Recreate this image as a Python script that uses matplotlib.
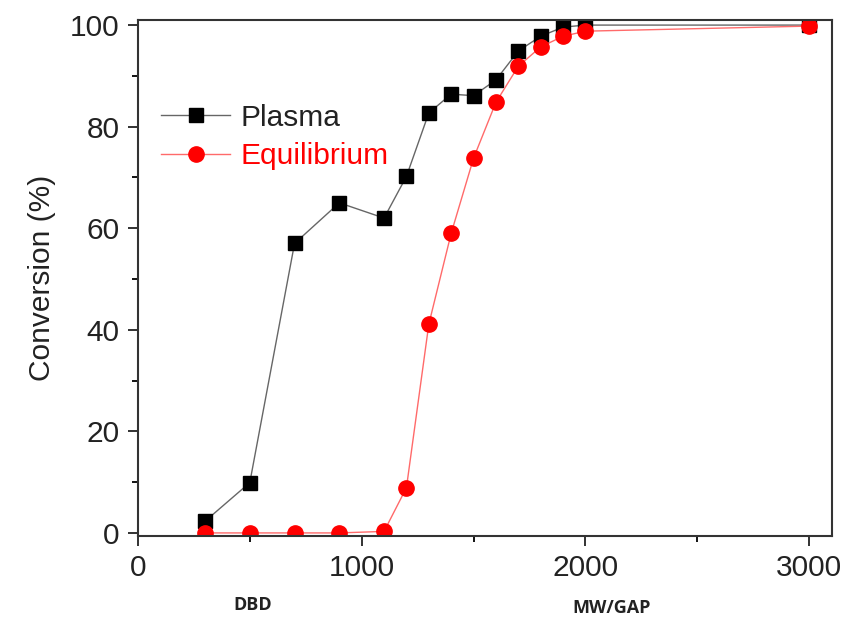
import matplotlib
matplotlib.use("Agg")
import matplotlib.pyplot as plt
from matplotlib.ticker import MultipleLocator

plt.rcParams["font.family"] = ["Liberation Sans", "DejaVu Sans"]

temperature = [300, 500, 700, 900, 1100, 1200, 1300, 1400, 1500, 1600, 1700, 1800, 1900, 2000, 3000]
plasma = [2.3, 9.9, 57.0, 65.0, 62.0, 70.2, 82.7, 86.4, 86.1, 89.2, 94.9, 97.8, 99.6, 100.0, 100.0]
equilibrium = [0.0, 0.0, 0.0, 0.0, 0.3, 8.9, 41.1, 59.0, 73.8, 84.8, 91.9, 95.7, 97.8, 98.8, 99.8]

fig = plt.figure(figsize=(8.46, 6.31), dpi=100)
ax = fig.add_axes([0.163, 0.1506, 0.820, 0.8177])

ax.plot(temperature, plasma, color="#666666", lw=1.0, marker="s", ms=10,
        mfc="black", mec="black", label="Plasma")
ax.plot(temperature, equilibrium, color="#ff6a6a", lw=1.0, marker="o", ms=11,
        mfc="red", mec="red", label="Equilibrium")

ax.set_xlim(0, 3100)
ax.set_ylim(-0.6, 101)
ax.xaxis.set_major_locator(MultipleLocator(1000))
ax.xaxis.set_minor_locator(MultipleLocator(500))
ax.yaxis.set_major_locator(MultipleLocator(20))
ax.yaxis.set_minor_locator(MultipleLocator(10))
ax.tick_params(which="major", direction="out", length=7, width=1.3, labelsize=21.5,
               colors="#222222", pad=6)
ax.tick_params(which="minor", direction="out", length=4, width=1.3)
for s in ax.spines.values():
    s.set_linewidth(1.5)
    s.set_color("#333333")

ax.set_ylabel("Conversion (%)", fontsize=21.5, color="#222222", labelpad=10)

leg = ax.legend(loc="upper left", bbox_to_anchor=(-0.005, 0.89), frameon=False,
                fontsize=21.5, handlelength=2.3, handletextpad=0.35, labelspacing=0.35)
leg.get_texts()[0].set_color("#222222")
leg.get_texts()[1].set_color("red")

fig.text(0.299, 0.041, "DBD", fontsize=13, fontweight="bold", family="Open Sans",
         ha="center", va="center", color="#222222")
fig.text(0.723, 0.036, "MW/GAP", fontsize=13, fontweight="bold", family="Open Sans",
         ha="center", va="center", color="#222222")

fig.savefig("out.png", dpi=100)
